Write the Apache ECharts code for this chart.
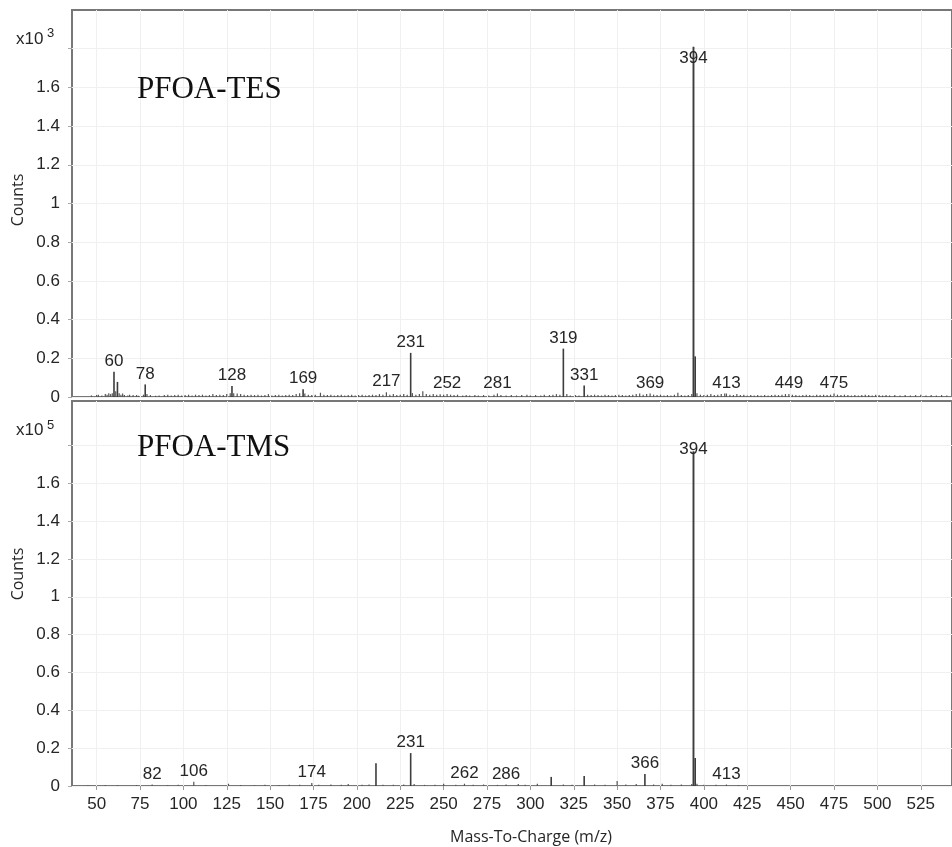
<!DOCTYPE html>
<html>
<head>
<meta charset="utf-8">
<script src="https://cdn.jsdelivr.net/npm/echarts@6.0.0/dist/echarts.min.js"></script>
<style>
  html, body { margin: 0; padding: 0; background: #fff; }
  #chart { width: 952px; height: 847px; }
</style>
</head>
<body>
<div id="chart"></div>
<script>
// m/z axis ticks and count axis ticks
const mzTicks = [50, 75, 100, 125, 150, 175, 200, 225, 250, 275, 300, 325, 350, 375, 400, 425, 450, 475, 500, 525];
const countTicks = [0, 0.2, 0.4, 0.6, 0.8, 1, 1.2, 1.4, 1.6, 1.8];
const countLabels = [0, 0.2, 0.4, 0.6, 0.8, 1, 1.2, 1.4, 1.6];

// PFOA-TES spectrum, counts x10^3
const tesMz = [47, 50, 51, 53, 55, 56, 57, 58, 59, 60, 61, 62, 63, 64, 65, 66, 68, 69, 71, 73, 74, 77, 78, 79, 81, 84, 86, 89, 91, 93, 95, 97, 99,
  101, 103, 105, 107, 109, 111, 113, 115, 117, 119, 121, 123, 125, 127, 128, 129, 131, 133, 135, 137, 139, 141, 143, 145, 147, 149,
  151, 153, 155, 157, 159, 161, 163, 165, 167, 169, 170, 172, 174, 176, 179, 181, 183, 185, 187, 189, 191, 193, 195, 197, 199,
  201, 203, 205, 207, 209, 211, 213, 215, 217, 219, 221, 223, 225, 227, 229, 231, 232, 234, 236, 238, 240, 242, 244, 246, 248,
  250, 252, 254, 256, 258, 261, 263, 265, 268, 270, 273, 276, 279, 281, 283, 286, 289, 292, 295, 298,
  300, 303, 306, 308, 311, 313, 315, 317, 319, 321, 323, 326, 328, 331, 333, 335, 337, 339, 341, 343, 345, 347, 349,
  351, 353, 355, 357, 359, 361, 363, 365, 367, 369, 371, 373, 375, 377, 379, 381, 383, 385, 387, 389, 391, 393, 394, 395, 396, 398,
  400, 402, 404, 406, 408, 410, 412, 413, 415, 417, 419, 421, 423, 425, 427, 429, 431, 433, 435, 437, 439, 441, 443, 445, 447, 449,
  451, 453, 455, 457, 459, 461, 463, 465, 467, 469, 471, 473, 475, 477, 479, 481, 483, 485, 487, 489, 491, 493, 495, 497, 499,
  501, 503, 505, 507, 510, 513, 516, 519, 522, 525, 528, 531, 534, 537, 540];
const tesCounts = [0.008, 0.01, 0.012, 0.008, 0.015, 0.012, 0.02, 0.015, 0.02, 0.13, 0.03, 0.078, 0.02, 0.012, 0.018, 0.01, 0.008, 0.012, 0.01, 0.01, 0.006, 0.012, 0.065, 0.015, 0.01, 0.006, 0.008, 0.01, 0.012, 0.008, 0.01, 0.012, 0.008,
  0.01, 0.012, 0.008, 0.012, 0.01, 0.012, 0.008, 0.01, 0.015, 0.01, 0.012, 0.01, 0.015, 0.02, 0.057, 0.02, 0.018, 0.015, 0.012, 0.01, 0.012, 0.01, 0.012, 0.008, 0.01, 0.015,
  0.008, 0.01, 0.012, 0.008, 0.01, 0.012, 0.01, 0.015, 0.02, 0.04, 0.018, 0.012, 0.01, 0.012, 0.022, 0.012, 0.01, 0.012, 0.008, 0.01, 0.012, 0.008, 0.01, 0.012, 0.008,
  0.01, 0.012, 0.008, 0.01, 0.012, 0.01, 0.015, 0.012, 0.025, 0.012, 0.015, 0.01, 0.012, 0.015, 0.012, 0.228, 0.02, 0.012, 0.015, 0.03, 0.015, 0.012, 0.015, 0.012, 0.014,
  0.012, 0.015, 0.012, 0.01, 0.012, 0.008, 0.01, 0.008, 0.01, 0.008, 0.01, 0.008, 0.012, 0.018, 0.01, 0.008, 0.01, 0.008, 0.01, 0.012,
  0.008, 0.01, 0.008, 0.012, 0.01, 0.012, 0.015, 0.012, 0.25, 0.015, 0.008, 0.01, 0.008, 0.059, 0.012, 0.01, 0.012, 0.01, 0.008, 0.012, 0.01, 0.008, 0.01,
  0.012, 0.01, 0.008, 0.01, 0.012, 0.015, 0.018, 0.012, 0.015, 0.018, 0.012, 0.01, 0.012, 0.008, 0.01, 0.008, 0.012, 0.022, 0.01, 0.008, 0.01, 0.015, 1.81, 0.21, 0.02, 0.012,
  0.01, 0.012, 0.015, 0.01, 0.012, 0.015, 0.018, 0.018, 0.012, 0.01, 0.015, 0.01, 0.012, 0.008, 0.01, 0.008, 0.01, 0.008, 0.01, 0.008, 0.01, 0.012, 0.01, 0.012, 0.015, 0.015,
  0.012, 0.01, 0.008, 0.01, 0.012, 0.01, 0.008, 0.012, 0.01, 0.012, 0.01, 0.012, 0.018, 0.012, 0.01, 0.012, 0.01, 0.008, 0.01, 0.008, 0.01, 0.012, 0.01, 0.008, 0.012,
  0.01, 0.008, 0.01, 0.008, 0.01, 0.008, 0.01, 0.008, 0.01, 0.012, 0.008, 0.01, 0.008, 0.01, 0.008];
const tesLabeled = [60, 78, 128, 169, 217, 231, 252, 281, 319, 331, 369, 394, 413, 449, 475];

// PFOA-TMS spectrum, counts x10^5
const tmsMz = [45, 55, 62, 73, 82, 91, 97, 106, 113, 126, 133, 141, 147, 155, 161, 167, 174, 178, 185, 191, 195,
  203, 207, 211, 215, 221, 227, 231, 233, 239, 245, 250, 257, 262, 267, 273, 281, 286, 293, 297,
  304, 312, 319, 324, 331, 337, 343, 350, 355, 361, 366, 371, 376, 381, 387, 393, 394, 395, 396, 400, 407, 413, 420];
const tmsCounts = [0.004, 0.005, 0.004, 0.005, 0.008, 0.005, 0.006, 0.022, 0.005, 0.012, 0.005, 0.004, 0.006, 0.005, 0.006, 0.006, 0.016, 0.006, 0.008, 0.006, 0.01,
  0.006, 0.008, 0.12, 0.006, 0.006, 0.008, 0.174, 0.01, 0.006, 0.006, 0.012, 0.006, 0.012, 0.006, 0.008, 0.006, 0.008, 0.01, 0.006,
  0.012, 0.048, 0.008, 0.006, 0.053, 0.008, 0.006, 0.027, 0.008, 0.01, 0.063, 0.008, 0.012, 0.006, 0.008, 0.01, 1.77, 0.148, 0.012, 0.006, 0.006, 0.008, 0.004];
const tmsLabeled = [82, 106, 174, 231, 262, 286, 366, 394, 413];

const FONT = '"Liberation Sans", Arial, sans-serif';
const TEXT = '#262626';

// Vertical sticks from the baseline, with m/z labels on the annotated peaks.
// basePeak: how the label of the tallest peak sits on its stick.
function stickSeries(idx, mzArr, countArr, labeled, basePeak) {
  const top = Math.max.apply(null, countArr);
  return {
    type: 'custom',
    xAxisIndex: idx,
    yAxisIndex: idx,
    clip: false,
    data: mzArr.map((m, i) => [m, countArr[i]]),
    renderItem(params, api) {
      const mz = api.value(0);
      const c = api.value(1);
      const p0 = api.coord([mz, 0]);
      const p1 = api.coord([mz, c]);
      const major = c >= 0.04;
      const children = [{
        type: 'line',
        shape: { x1: p0[0], y1: p0[1], x2: p1[0], y2: p1[1] },
        style: { stroke: major ? '#3d3d3d' : '#555', lineWidth: c === top ? 1.9 : (major ? 1.6 : 1.2) }
      }];
      if (labeled.indexOf(mz) >= 0) {
        let y = p1[1] - 2, va = 'bottom';
        if (c === top) {
          if (basePeak === 'below') { y = p1[1] + 3; va = 'top'; }
          else { y = p1[1] - 2; va = 'middle'; }
        }
        children.push({
          type: 'text',
          x: p1[0], y: y,
          z2: 10,
          style: { text: String(mz), fill: TEXT, font: '17px ' + FONT, align: 'center', verticalAlign: va }
        });
      }
      return { type: 'group', children: children };
    }
  };
}

function xAxis(idx, showLabels) {
  return {
    type: 'value', gridIndex: idx, min: 35.8, max: 543,
    axisLine: { show: false },
    axisTick: { show: showLabels, customValues: mzTicks, length: 4, lineStyle: { color: '#999' } },
    axisLabel: { show: showLabels, customValues: mzTicks, color: TEXT, fontSize: 17, fontFamily: FONT, margin: 10 },
    splitLine: { show: true, lineStyle: { color: '#f0f0f0', width: 1 } }
  };
}

function yAxis(idx, max) {
  return {
    type: 'value', gridIndex: idx, min: 0, max: max,
    axisLine: { show: false },
    axisTick: { show: true, customValues: countTicks, length: 4, lineStyle: { color: '#aaa' } },
    axisLabel: { customValues: countLabels, color: TEXT, fontSize: 17, fontFamily: FONT, margin: 12,
      formatter: v => String(v) },
    splitLine: { show: true, lineStyle: { color: '#f0f0f0', width: 1 } }
  };
}

function txt(x, y, text, font, extra) {
  return {
    type: 'text', x: x, y: y, z: 100,
    style: Object.assign({ text: text, fill: TEXT, font: font, align: 'left', verticalAlign: 'middle' }, extra || {})
  };
}

const chart = echarts.init(document.getElementById('chart'), null, { renderer: 'canvas' });
chart.setOption({
  backgroundColor: '#fff',
  animation: false,
  grid: [
    { left: 72, right: -4, top: 10, height: 387, show: true, borderColor: '#777', borderWidth: 2, backgroundColor: 'transparent' },
    { left: 72, right: -4, top: 401, height: 385, show: true, borderColor: '#777', borderWidth: 2, backgroundColor: 'transparent' }
  ],
  xAxis: [xAxis(0, false), xAxis(1, true)],
  yAxis: [yAxis(0, 2.0), yAxis(1, 2.035)],
  series: [
    stickSeries(0, tesMz, tesCounts, tesLabeled, 'below'),
    stickSeries(1, tmsMz, tmsCounts, tmsLabeled, 'across')
  ],
  graphic: [
    txt(137, 90, 'PFOA-TES', '31px "Liberation Serif", "Times New Roman", serif', { fill: '#111' }),
    txt(137, 448, 'PFOA-TMS', '31px "Liberation Serif", "Times New Roman", serif', { fill: '#111' }),
    txt(16, 39, 'x10', '17px ' + FONT),
    txt(47, 33, '3', '13px ' + FONT),
    txt(16, 430, 'x10', '17px ' + FONT),
    txt(47, 425, '5', '13px ' + FONT),
    { type: 'text', x: 18, y: 200, rotation: Math.PI / 2, z: 100,
      style: { text: 'Counts', fill: TEXT, font: '16px "Open Sans", sans-serif', align: 'center', verticalAlign: 'middle' } },
    { type: 'text', x: 18, y: 574, rotation: Math.PI / 2, z: 100,
      style: { text: 'Counts', fill: TEXT, font: '16px "Open Sans", sans-serif', align: 'center', verticalAlign: 'middle' } },
    txt(531, 837, 'Mass-To-Charge (m/z)', '16px "Open Sans", sans-serif', { align: 'center' })
  ]
});
</script>
</body>
</html>
